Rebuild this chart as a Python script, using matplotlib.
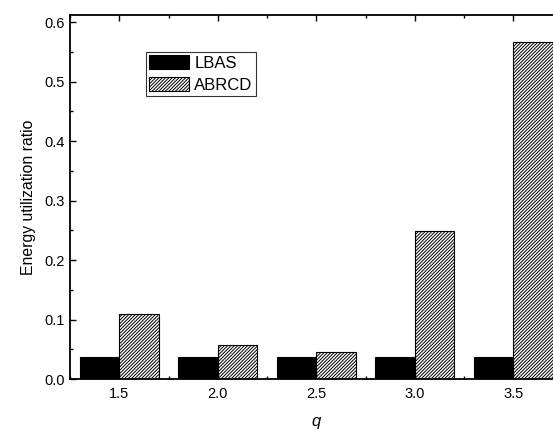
import matplotlib
matplotlib.use('Agg')
import matplotlib.pyplot as plt
import numpy as np
from matplotlib.ticker import MultipleLocator

plt.rcParams['font.family'] = ['Liberation Sans', 'DejaVu Sans']
plt.rcParams['hatch.linewidth'] = 0.7

# values
q = [1.5, 2.0, 2.5, 3.0, 3.5]
lbas = [0.037, 0.037, 0.037, 0.037, 0.037]
abrcd = [0.110, 0.057, 0.046, 0.249, 0.567]

w = 0.2
fig = plt.figure(figsize=(5.53, 4.30), dpi=100)
ax = fig.add_axes([0.1266, 0.1186, 0.891, 0.8465])

x = np.array(q)
ax.bar(x - w/2, lbas, width=w, color='black', edgecolor='black', linewidth=0.8, label='LBAS')
ax.bar(x + w/2, abrcd, width=w, color='white', edgecolor='black', linewidth=0.8,
       hatch='//////////', label='ABRCD')

ax.set_xlim(1.25, 3.75)
ax.set_ylim(0, 0.612)
ax.set_xticks(q)
ax.set_xticklabels(['%.1f' % v for v in q])
ax.xaxis.set_minor_locator(MultipleLocator(0.25))
ax.yaxis.set_major_locator(MultipleLocator(0.1))
ax.yaxis.set_minor_locator(MultipleLocator(0.05))
ax.tick_params(which='both', direction='in', top=True, right=True, labelsize=10.5)
ax.tick_params(which='major', length=4, width=1)
ax.tick_params(which='major', axis='x', pad=6)
ax.tick_params(which='minor', length=2.5, width=1)
for s in ax.spines.values():
    s.set_linewidth(1.3)

ax.set_ylabel('Energy utilization ratio', fontsize=11.3, labelpad=6)
ax.set_xlabel('q', fontsize=12, style='italic', labelpad=9)

leg = ax.legend(loc='upper left', bbox_to_anchor=(0.154, 0.898), borderaxespad=0,
                fancybox=False, edgecolor='black', fontsize=12, handlelength=2.4,
                handleheight=0.9, labelspacing=0.35, borderpad=0.2, handletextpad=0.3)
leg.get_frame().set_linewidth(0.8)

fig.savefig('out.png', dpi=100)
